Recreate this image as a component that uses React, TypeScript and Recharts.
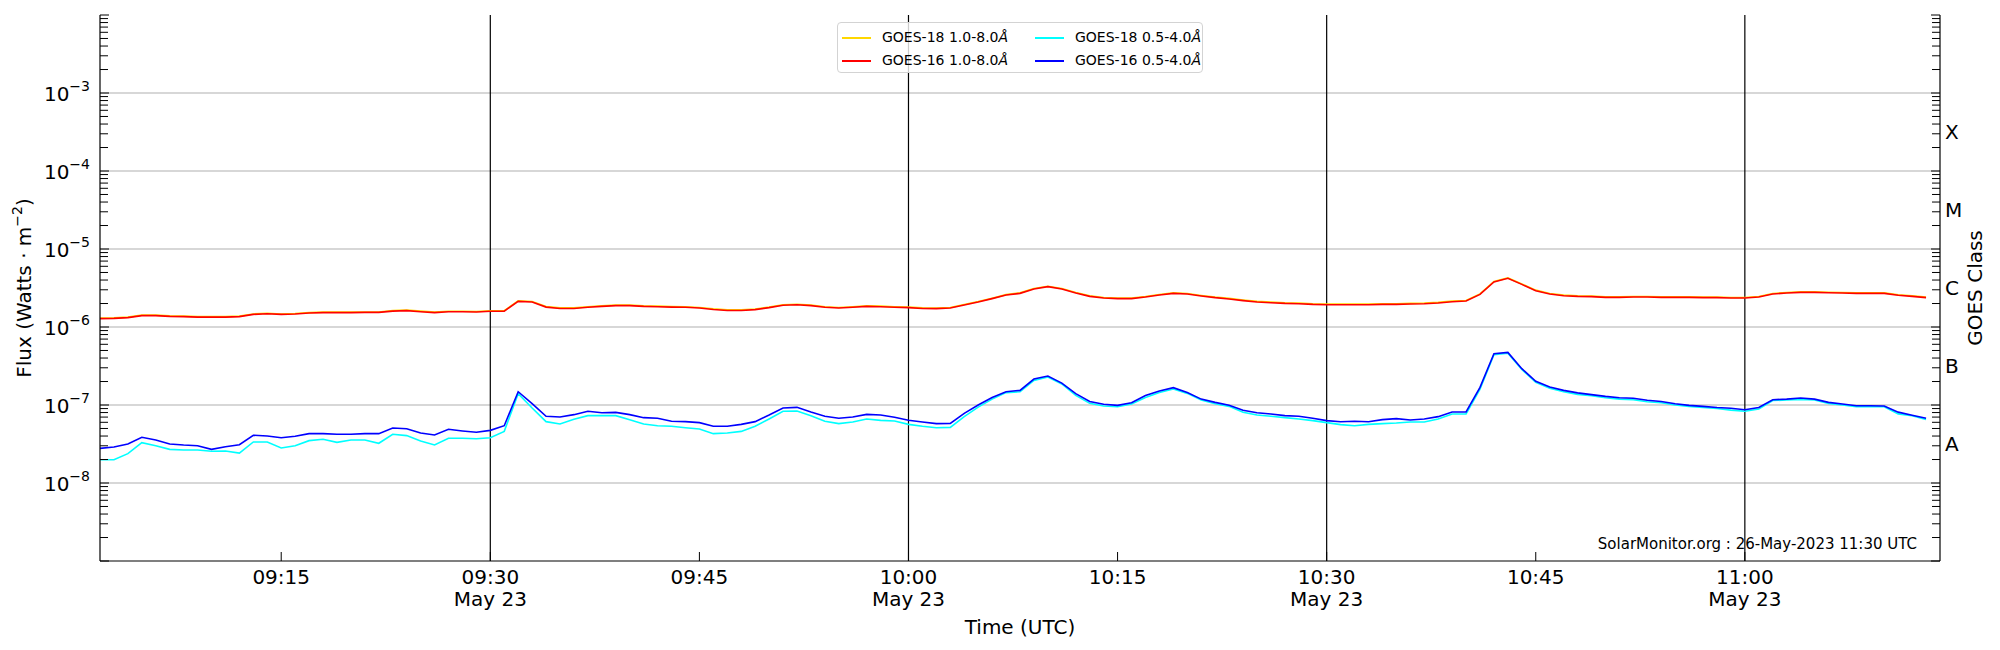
import React from "react";
import { LineChart, Line, XAxis, YAxis, ReferenceLine } from "recharts";

// one reading per minute, starting 09:02 UTC on 23 May
const START_MINUTE = 9 * 60 + 2;
const DOMAIN_MINUTES = [9 * 60 + 2, 11 * 60 + 14];
const TIME_TICKS = [555, 570, 585, 600, 615, 630, 645, 660];
const DATE_LINES = [570, 600, 630, 660];
const DATE_LABEL = "May 23";

// GOES-18 1.0-8.0 Å, x 1e-6 W/m²
const goes18Long = [
  1.30, 1.31, 1.34, 1.42, 1.42, 1.39, 1.38, 1.36, 1.36, 1.36, 1.38, 1.47, 1.50, 1.47, 1.49, 1.53, 1.55, 1.55, 1.55, 1.56,
  1.56, 1.63, 1.65, 1.60, 1.56, 1.59, 1.59, 1.58,
  1.61, 1.62, 2.16, 2.12, 1.83, 1.76, 1.76, 1.82, 1.87, 1.91, 1.91, 1.87, 1.85, 1.83, 1.82, 1.78, 1.71, 1.66, 1.66, 1.70,
  1.80, 1.93, 1.96, 1.91, 1.82, 1.78,
  1.82, 1.87, 1.85, 1.82, 1.80, 1.76, 1.75, 1.78, 1.94, 2.12, 2.34, 2.60, 2.74, 3.11, 3.33, 3.11, 2.77, 2.51, 2.39, 2.35,
  2.35, 2.46, 2.61, 2.74, 2.69, 2.54, 2.42,
  2.33, 2.22, 2.13, 2.09, 2.05, 2.03, 1.99, 1.97, 1.97, 1.97, 1.97, 1.99, 1.99, 2.01, 2.03, 2.07, 2.15, 2.19, 2.66, 3.83,
  4.26, 3.57, 2.97, 2.69, 2.56, 2.51,
  2.49, 2.44, 2.44, 2.46, 2.46, 2.44, 2.44, 2.44, 2.42, 2.42, 2.39, 2.39, 2.46, 2.69, 2.77, 2.82, 2.82, 2.79, 2.77, 2.74,
  2.74, 2.74, 2.59, 2.51, 2.42,
];

// GOES-16 1.0-8.0 Å, x 1e-6 W/m²
const goes16Long = [
  1.28, 1.29, 1.32, 1.40, 1.40, 1.37, 1.36, 1.34, 1.34, 1.34, 1.36, 1.45, 1.48, 1.45, 1.47, 1.51, 1.53, 1.53, 1.53, 1.54,
  1.54, 1.60, 1.62, 1.57, 1.53, 1.57, 1.57, 1.56,
  1.59, 1.60, 2.13, 2.09, 1.80, 1.73, 1.73, 1.79, 1.84, 1.88, 1.88, 1.84, 1.82, 1.80, 1.79, 1.75, 1.68, 1.63, 1.63, 1.67,
  1.77, 1.90, 1.93, 1.88, 1.79, 1.75,
  1.79, 1.84, 1.82, 1.79, 1.77, 1.73, 1.72, 1.75, 1.91, 2.09, 2.31, 2.57, 2.70, 3.07, 3.29, 3.07, 2.73, 2.47, 2.35, 2.31,
  2.31, 2.42, 2.57, 2.70, 2.65, 2.50, 2.38,
  2.29, 2.18, 2.09, 2.05, 2.01, 1.99, 1.95, 1.93, 1.93, 1.93, 1.93, 1.95, 1.95, 1.97, 1.99, 2.03, 2.11, 2.15, 2.62, 3.78,
  4.21, 3.52, 2.92, 2.65, 2.52, 2.47,
  2.45, 2.40, 2.40, 2.42, 2.42, 2.40, 2.40, 2.40, 2.38, 2.38, 2.35, 2.35, 2.42, 2.65, 2.73, 2.78, 2.78, 2.75, 2.73, 2.70,
  2.70, 2.70, 2.55, 2.47, 2.38,
];

// GOES-18 0.5-4.0 Å, x 1e-8 W/m²
const goes18Short = [
  1.99, 1.99, 2.38, 3.29, 3.01, 2.70, 2.65, 2.65, 2.55, 2.57, 2.42, 3.36, 3.36, 2.81, 3.01, 3.49, 3.63, 3.32, 3.56, 3.56,
  3.23, 4.21, 4.05, 3.45, 3.07, 3.74, 3.74, 3.70,
  3.81, 4.59, 14.0, 9.15, 6.12, 5.71, 6.55, 7.30, 7.30, 7.30, 6.49, 5.71, 5.43, 5.33, 5.12, 4.92, 4.29, 4.38, 4.59, 5.33,
  6.62, 8.30, 8.38, 7.30, 6.18, 5.77,
  6.05, 6.62, 6.36, 6.24, 5.65, 5.33, 5.12, 5.17, 7.09, 9.4, 11.9, 14.4, 14.8, 20.7, 22.8, 18.6, 13.3, 10.5, 9.7, 9.5,
  10.3, 12.5, 14.5, 16.0, 14.1, 11.6, 10.4,
  9.6, 8.05, 7.44, 7.16, 6.88, 6.62, 6.30, 5.94, 5.60, 5.43, 5.65, 5.77, 5.88, 6.05, 6.05, 6.62, 7.67, 7.67, 16.0, 44.2,
  46.0, 28.6, 19.5, 16.4, 14.8, 13.7,
  13.2, 12.4, 11.9, 11.7, 11.0, 10.7, 10.0, 9.6, 9.3, 9.0, 8.6, 8.3, 8.9, 11.4, 11.6, 11.8, 11.6, 10.5, 10.0, 9.5,
  9.5, 9.5, 7.7, 7.3, 6.5,
];

// GOES-16 0.5-4.0 Å, x 1e-8 W/m²
const goes16Short = [
  2.78, 2.90, 3.16, 3.85, 3.56, 3.16, 3.07, 3.01, 2.70, 2.92, 3.10, 4.09, 4.01, 3.81, 3.97, 4.29, 4.29, 4.21, 4.21, 4.29,
  4.29, 5.07, 4.97, 4.38, 4.12, 4.88, 4.65, 4.47,
  4.73, 5.43, 14.8, 10.4, 7.16, 7.02, 7.52, 8.30, 7.97, 8.05, 7.52, 6.88, 6.75, 6.18, 6.12, 5.94, 5.33, 5.33, 5.65, 6.12,
  7.44, 9.15, 9.33, 8.13, 7.16, 6.75,
  7.02, 7.59, 7.44, 6.95, 6.36, 6.05, 5.77, 5.82, 7.82, 10.0, 12.5, 14.8, 15.4, 21.5, 23.5, 19.1, 14.0, 11.1, 10.2, 9.9,
  10.7, 13.2, 15.1, 16.7, 14.5, 11.9, 10.8,
  9.9, 8.55, 7.97, 7.67, 7.30, 7.16, 6.75, 6.30, 6.11, 6.18, 6.11, 6.49, 6.68, 6.42, 6.62, 7.09, 8.13, 8.13, 16.8, 45.5,
  47.3, 29.2, 20.1, 17.0, 15.4, 14.3,
  13.6, 12.9, 12.4, 12.2, 11.5, 11.1, 10.4, 9.9, 9.6, 9.3, 9.1, 8.7, 9.3, 11.7, 11.9, 12.3, 11.9, 10.8, 10.3, 9.8,
  9.8, 9.7, 8.1, 7.4, 6.75,
];

const DECADES = [-9, -8, -7, -6, -5, -4, -3, -2];
const LABELLED_DECADES = [-8, -7, -6, -5, -4, -3];
const MINOR_STEPS = [2, 3, 4, 5, 6, 7, 8, 9];
const CLASS_LABELS = ["A", "B", "C", "M", "X"];
const CLASS_EXPONENTS = [-7.5, -6.5, -5.5, -4.5, -3.5];

const SERIES = [
  { key: "g18Long", name: "GOES-18 1.0-8.0", color: "#ffd700" },
  { key: "g16Long", name: "GOES-16 1.0-8.0", color: "#ff0000" },
  { key: "g18Short", name: "GOES-18 0.5-4.0", color: "#00ffff" },
  { key: "g16Short", name: "GOES-16 0.5-4.0", color: "#0000ff" },
];

const FONT = "'DejaVu Sans', sans-serif";

const data = goes16Long.map((v, i) => ({
  t: START_MINUTE + i,
  g18Long: goes18Long[i] * 1e-6,
  g16Long: v * 1e-6,
  g18Short: goes18Short[i] * 1e-8,
  g16Short: goes16Short[i] * 1e-8,
}));

const majorTicks = DECADES.map((d) => Math.pow(10, d));
const minorTicks: number[] = [];
DECADES.slice(0, -1).forEach((d) => MINOR_STEPS.forEach((k) => minorTicks.push(k * Math.pow(10, d))));
const logTicks = [...majorTicks, ...minorTicks].sort((a, b) => a - b);
const classTicks = CLASS_EXPONENTS.map((e) => Math.pow(10, e));

const pad = (n: number) => String(n).padStart(2, "0");

function TimeTick(props: any) {
  const { x, y, payload } = props;
  const m = payload.value as number;
  const label = `${pad(Math.floor(m / 60))}:${pad(m % 60)}`;
  return (
    <g>
      <line x1={x} x2={x} y1={y} y2={y - 9} stroke="#000" strokeWidth={1} />
      <text x={x} y={y + 23} textAnchor="middle" fontSize={20} fontFamily={FONT} fill="#000">
        {label}
      </text>
      {DATE_LINES.includes(m) && (
        <text x={x} y={y + 45} textAnchor="middle" fontSize={20} fontFamily={FONT} fill="#000">
          {DATE_LABEL}
        </text>
      )}
    </g>
  );
}

function FluxTick(props: any) {
  const { x, y, payload } = props;
  const v = payload.value as number;
  const major = majorTicks.includes(v);
  const exp = Math.round(Math.log10(v));
  return (
    <g>
      <line x1={x} x2={x + (major ? 9 : 8)} y1={y} y2={y} stroke="#000" strokeWidth={1} />
      {major && LABELLED_DECADES.includes(exp) && (
        <text x={x - 10} y={y + 8} textAnchor="end" fontSize={20} fontFamily={FONT} fill="#000">
          10
          <tspan dy={-10} fontSize={14}>
            {"\u2212" + -exp}
          </tspan>
        </text>
      )}
    </g>
  );
}

function ClassTick(props: any) {
  const { x, y, payload } = props;
  const v = payload.value as number;
  const ci = classTicks.indexOf(v);
  if (ci >= 0) {
    return (
      <text x={x + 5} y={y + 7} fontSize={20} fontFamily={FONT} fill="#000">
        {CLASS_LABELS[ci]}
      </text>
    );
  }
  const major = majorTicks.includes(v);
  return <line x1={x} x2={x - (major ? 9 : 8)} y1={y} y2={y} stroke="#000" strokeWidth={1} />;
}

const Angstrom = () => <span style={{ fontStyle: "italic" }}>Å</span>;

export default function App() {
  return (
    <div style={{ position: "absolute", left: 0, top: 0, width: 2000, height: 650, fontFamily: FONT, background: "#fff" }}>
      <LineChart width={2000} height={650} data={data} margin={{ top: 15, right: 0, bottom: 0, left: 0 }}>
        <XAxis
          xAxisId="bottom"
          dataKey="t"
          type="number"
          domain={DOMAIN_MINUTES}
          ticks={TIME_TICKS}
          interval={0}
          height={89}
          tickSize={0}
          tickMargin={0}
          tickLine={false}
          tick={(p: any) => <TimeTick {...p} />}
          axisLine={{ stroke: "#000", strokeWidth: 1.2 }}
          label={{
            content: (p: any) => {
              const vb = p.viewBox;
              return (
                <text x={vb.x + vb.width / 2} y={vb.y + 73} textAnchor="middle" fontSize={20} fontFamily={FONT} fill="#000">
                  Time (UTC)
                </text>
              );
            },
          }}
        />
        <XAxis
          xAxisId="top"
          orientation="top"
          dataKey="t"
          type="number"
          domain={DOMAIN_MINUTES}
          height={0}
          tick={false}
          tickLine={false}
          axisLine={{ stroke: "#000", strokeWidth: 1.2 }}
        />
        <YAxis
          yAxisId="left"
          type="number"
          scale="log"
          domain={[1e-9, 1e-2]}
          allowDataOverflow
          ticks={logTicks}
          interval={0}
          width={100}
          tickSize={0}
          tickMargin={0}
          tickLine={false}
          tick={(p: any) => <FluxTick {...p} />}
          axisLine={{ stroke: "#000", strokeWidth: 1.2 }}
          label={{
            content: (p: any) => {
              const vb = p.viewBox;
              const cx = vb.x + 24;
              const cy = vb.y + vb.height / 2;
              return (
                <text transform={`translate(${cx},${cy}) rotate(-90)`} textAnchor="middle" dy={7} fontSize={20} fontFamily={FONT} fill="#000">
                  Flux (Watts · m
                  <tspan dy={-9} fontSize={14}>
                    {"\u22122"}
                  </tspan>
                  <tspan dy={9}>)</tspan>
                </text>
              );
            },
          }}
        />
        <YAxis
          yAxisId="right"
          orientation="right"
          type="number"
          scale="log"
          domain={[1e-9, 1e-2]}
          allowDataOverflow
          ticks={[...logTicks, ...classTicks].sort((a, b) => a - b)}
          interval={0}
          width={60}
          tickSize={0}
          tickMargin={0}
          tickLine={false}
          tick={(p: any) => <ClassTick {...p} />}
          axisLine={{ stroke: "#000", strokeWidth: 1.2 }}
          label={{
            content: (p: any) => {
              const vb = p.viewBox;
              const cx = vb.x + 35;
              const cy = vb.y + vb.height / 2;
              return (
                <text transform={`translate(${cx},${cy}) rotate(-90)`} textAnchor="middle" dy={7} fontSize={20} fontFamily={FONT} fill="#000">
                  GOES Class
                </text>
              );
            },
          }}
        />
        {LABELLED_DECADES.map((d) => (
          <ReferenceLine key={d} xAxisId="bottom" yAxisId="left" y={Math.pow(10, d)} stroke="#b0b0b0" strokeWidth={1.2} />
        ))}
        {DATE_LINES.map((m) => (
          <ReferenceLine key={m} xAxisId="bottom" yAxisId="left" x={m} stroke="#000" strokeWidth={1.2} />
        ))}
        {SERIES.map((s) => (
          <Line
            key={s.key}
            xAxisId="bottom"
            yAxisId="left"
            type="linear"
            dataKey={s.key}
            stroke={s.color}
            strokeWidth={1.6}
            dot={false}
            isAnimationActive={false}
          />
        ))}
      </LineChart>

      <div
        style={{
          position: "absolute",
          left: 837,
          top: 22,
          width: 366,
          height: 51,
          boxSizing: "border-box",
          border: "1px solid #d3d3d3",
          borderRadius: 4,
          background: "rgba(255,255,255,0.8)",
          fontSize: 14,
          color: "#000",
        }}
      >
        {SERIES.map((s, i) => {
          const col = i < 2 ? 0 : 1;
          const row = i % 2;
          const left = col === 0 ? 4 : 197;
          const cy = row === 0 ? 15 : 38;
          return (
            <div key={s.key}>
              <div style={{ position: "absolute", left, top: cy - 1, width: 29, height: 2, background: s.color }} />
              <div style={{ position: "absolute", left: left + 40, top: cy - 9, lineHeight: "17px", whiteSpace: "nowrap" }}>
                {s.name}
                <Angstrom />
              </div>
            </div>
          );
        })}
      </div>

      <svg width={2000} height={650} style={{ position: "absolute", left: 0, top: 0, pointerEvents: "none" }}>
        <text x={1917} y={549} textAnchor="end" fontSize={15} fontFamily={FONT} fill="#000">
          SolarMonitor.org : 26-May-2023 11:30 UTC
        </text>
      </svg>
    </div>
  );
}
